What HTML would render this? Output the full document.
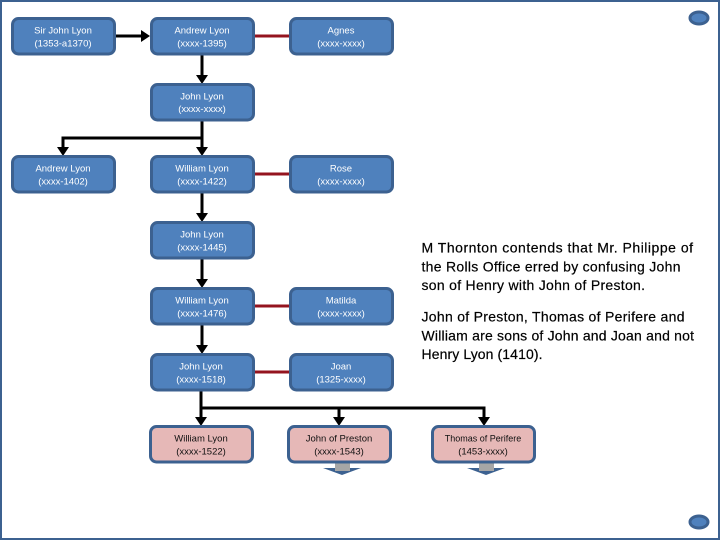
<!DOCTYPE html>
<html>
<head>
<meta charset="utf-8">
<style>
html,body{margin:0;padding:0;background:#fff}
svg{display:block}
text{font-family:"Liberation Sans",sans-serif}
.b{fill:#4f81bd;stroke:#3c6190;stroke-width:3}
.p{fill:#e6b8b7;stroke:#3c6190;stroke-width:3}
.w text{fill:#fff;font-size:9.5px;text-anchor:middle}
.k text{fill:#111;font-size:9.5px;text-anchor:middle}
.c{stroke:#000;stroke-width:3;fill:none}
.r{stroke:#94141f;stroke-width:3;fill:none}
.t text{fill:#000;font-size:14px;stroke:#000;stroke-width:.2}
</style>
</head>
<body>
<svg width="720" height="540" viewBox="0 0 720 540" xmlns="http://www.w3.org/2000/svg">
<rect x="1" y="1" width="718" height="538" fill="#fff" stroke="#3c6190" stroke-width="2"/>
<ellipse cx="699" cy="18" rx="9" ry="6" class="b"/>
<ellipse cx="699" cy="522" rx="9" ry="6" class="b"/>

<!-- connectors -->
<path class="c" d="M116 36H143M202 55V76M202 121V148M202 138H63V148M202 193V214M202 259V280M202 325V346M201 391V418M201 408H484V418M339 408V418"/>
<g fill="#000">
<polygon points="150,36 141,30 141,42"/>
<polygon points="202,84 196,75 208,75"/>
<polygon points="202,156 196,147 208,147"/>
<polygon points="63,156 57,147 69,147"/>
<polygon points="202,222 196,213 208,213"/>
<polygon points="202,288 196,279 208,279"/>
<polygon points="202,354 196,345 208,345"/>
<polygon points="201,426 195,417 207,417"/>
<polygon points="339,426 333,417 345,417"/>
<polygon points="484,426 478,417 490,417"/>
</g>
<path class="r" d="M254 36H290M254 174H290M254 306H290M254 372H290"/>

<!-- blue boxes -->
<g>
<rect class="b" x="12.500" y="18.500" width="102" height="35.500" rx="6"/>
<rect class="b" x="151.500" y="18.500" width="102" height="35.500" rx="6"/>
<rect class="b" x="290.500" y="18.500" width="102" height="35.500" rx="6"/>
<rect class="b" x="151.500" y="84.500" width="102" height="35.500" rx="6"/>
<rect class="b" x="12.500" y="156.500" width="102" height="35.500" rx="6"/>
<rect class="b" x="151.500" y="156.500" width="102" height="35.500" rx="6"/>
<rect class="b" x="290.500" y="156.500" width="102" height="35.500" rx="6"/>
<rect class="b" x="151.500" y="222.500" width="102" height="35.500" rx="6"/>
<rect class="b" x="151.500" y="288.500" width="102" height="35.500" rx="6"/>
<rect class="b" x="290.500" y="288.500" width="102" height="35.500" rx="6"/>
<rect class="b" x="151.500" y="354.500" width="102" height="35.500" rx="6"/>
<rect class="b" x="290.500" y="354.500" width="102" height="35.500" rx="6"/>
</g>

<!-- lower stubs -->
<g>
<polygon points="323,468 335,468 335,464 350,464 350,468 361,468 342,475" fill="#3c6190"/>
<rect x="335" y="463" width="15" height="8" fill="#a6a6a6"/>
<polygon points="467,468 479,468 479,464 494,464 494,468 505,468 486,475" fill="#3c6190"/>
<rect x="479" y="463" width="15" height="8" fill="#a6a6a6"/>
</g>

<!-- pink boxes -->
<g>
<rect class="p" x="150.500" y="426.500" width="102" height="35.500" rx="6"/>
<rect class="p" x="288.500" y="426.500" width="102" height="35.500" rx="6"/>
<rect class="p" x="432.500" y="426.500" width="102" height="35.500" rx="6"/>
</g>

<g class="w">
<text x="63" y="33.500">Sir John Lyon</text><text x="63" y="46.500">(1353-a1370)</text>
<text x="202" y="33.500">Andrew Lyon</text><text x="202" y="46.500">(xxxx-1395)</text>
<text x="341" y="33.500">Agnes</text><text x="341" y="46.500">(xxxx-xxxx)</text>
<text x="202" y="99.500">John Lyon</text><text x="202" y="112">(xxxx-xxxx)</text>
<text x="63" y="171.500">Andrew Lyon</text><text x="63" y="184.500">(xxxx-1402)</text>
<text x="202" y="171.500">William Lyon</text><text x="202" y="184.500">(xxxx-1422)</text>
<text x="341" y="171.500">Rose</text><text x="341" y="184.500">(xxxx-xxxx)</text>
<text x="202" y="237.500">John Lyon</text><text x="202" y="250.500">(xxxx-1445)</text>
<text x="202" y="303.500">William Lyon</text><text x="202" y="316.500">(xxxx-1476)</text>
<text x="341" y="303.500">Matilda</text><text x="341" y="316.500">(xxxx-xxxx)</text>
<text x="201" y="369.500">John Lyon</text><text x="201" y="382.500">(xxxx-1518)</text>
<text x="341" y="369.500">Joan</text><text x="341" y="382.500">(1325-xxxx)</text>
</g>
<g class="k">
<text x="201" y="441.500">William Lyon</text><text x="201" y="454.500">(xxxx-1522)</text>
<text x="339" y="441.500">John of Preston</text><text x="339" y="454.500">(xxxx-1543)</text>
<text x="483" y="441.500" style="font-size:9px">Thomas of Perifere</text><text x="483" y="454.500">(1453-xxxx)</text>
</g>

<g class="t">
<text x="421.500" y="252.500" textLength="271.500" lengthAdjust="spacing">M Thornton contends that Mr. Philippe of</text>
<text x="421.500" y="271.500" textLength="259" lengthAdjust="spacing">the Rolls Office erred  by confusing John</text>
<text x="421.500" y="290" textLength="223.500" lengthAdjust="spacing">son of Henry with John of Preston.</text>
<text x="421.500" y="321.500" textLength="263" lengthAdjust="spacing">John of Preston, Thomas of Perifere  and</text>
<text x="421.500" y="340.500" textLength="272.500" lengthAdjust="spacing">William are sons of John and Joan and not</text>
<text x="421.500" y="359" textLength="121" lengthAdjust="spacing">Henry Lyon (1410).</text>
</g>
</svg>
</body>
</html>
